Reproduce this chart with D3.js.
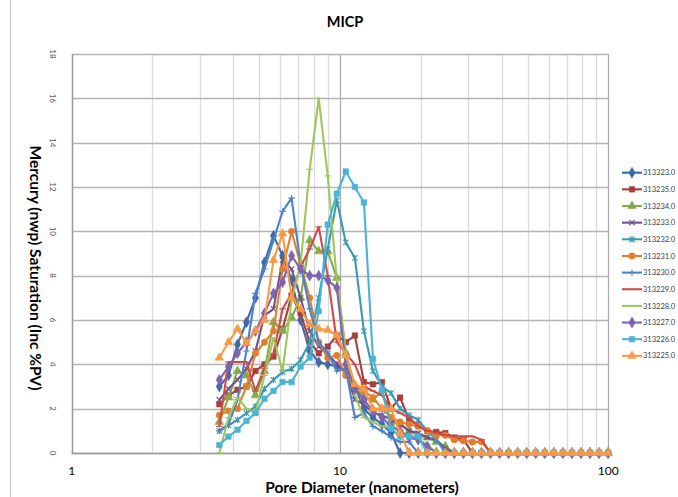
<!DOCTYPE html>
<html>

<head>
    <meta charset="UTF-8">
    <title>MICP</title>
    <script type="text/javascript" src="https://d3js.org/d3.v7.min.js"></script>
    <style>
        body { margin: 0; background: #fff; }
        svg { display: block; font-family: Lato, "Open Sans", sans-serif; }
    </style>
</head>

<body>
    <svg id="chart"></svg>
    <script>
        //pore diameters (nm), same for every sample
        const diameters = [3.55, 3.84, 4.15, 4.48, 4.84, 5.23, 5.65, 6.11, 6.60, 7.13, 7.71,
            8.33, 9.00, 9.73, 10.51, 11.36, 12.28, 13.27, 14.34, 15.50, 16.75, 18.10,
            19.56, 21.14, 22.85, 24.69, 26.68, 28.84, 31.16, 33.68, 36.40, 39.33, 42.51,
            45.94, 49.65, 53.65, 57.98, 62.66, 67.72, 73.18, 79.09, 85.47, 92.37, 99.82];

        const sampleNames = ["313323.0", "313235.0", "313234.0", "313233.0", "313232.0", "313231.0",
            "313230.0", "313229.0", "313228.0", "313227.0", "313226.0", "313225.0"];

        //incremental saturation per sample (%PV)
        const s313323 = [3.0, 3.5, 4.9, 5.9, 7.0, 8.6, 9.8, 8.9, 7.8, 6.0, 4.6, 4.1, 4.0, 3.9, 3.7, 3.0, 2.0, 1.6, 1.3, 0.9, 0,
            0, 0, 0, 0, 0, 0, 0, 0, 0, 0, 0, 0, 0, 0, 0, 0, 0, 0, 0, 0, 0, 0, 0];
        const s313235 = [2.2, 2.6, 2.85, 3.0, 3.7, 4.0, 4.35, 5.6, 7.1, 6.3, 5.0, 4.5, 4.8, 5.3, 5.0, 5.3, 3.2, 3.1, 3.2, 2.0, 2.5,
            1.5, 1.25, 1.0, 0.95, 0.9, 0.7, 0.6, 0, 0, 0, 0, 0, 0, 0, 0, 0, 0, 0, 0, 0, 0, 0, 0];
        const s313234 = [1.4, 2.5, 3.7, 3.5, 2.6, 3.7, 5.9, 5.5, 6.1, 7.0, 9.6, 9.1, 9.1, 7.9, 4.5, 3.0, 2.5, 2.4, 2.8, 1.4, 1.3,
            1.0, 0.8, 0.7, 0.5, 0.3, 0, 0, 0, 0, 0, 0, 0, 0, 0, 0, 0, 0, 0, 0, 0, 0, 0, 0];
        const s313233 = [2.4, 2.9, 3.3, 3.8, 4.6, 6.2, 6.5, 8.7, 8.3, 7.0, 5.5, 4.8, 4.5, 4.0, 3.7, 2.4, 2.2, 1.8, 1.7, 1.5, 1.3,
            1.0, 0.9, 0.7, 0.6, 0.2, 0, 0, 0, 0, 0, 0, 0, 0, 0, 0, 0, 0, 0, 0, 0, 0, 0, 0];
        const s313232 = [1.0, 1.25, 1.5, 1.8, 2.1, 2.9, 3.3, 3.65, 3.8, 4.2, 5.0, 7.0, 9.2, 11.4, 9.5, 8.8, 5.5, 3.7, 3.0, 2.7, 2.0,
            1.7, 1.5, 1.0, 0.6, 0, 0, 0, 0, 0, 0, 0, 0, 0, 0, 0, 0, 0, 0, 0, 0, 0, 0, 0];
        const s313231 = [1.7, 1.9, 2.0, 3.0, 4.5, 5.0, 5.5, 8.3, 10.0, 8.5, 7.0, 5.0, 4.3, 4.4, 3.5, 3.0, 2.8, 2.5, 2.0, 1.6, 1.4,
            1.3, 1.2, 1.0, 0.8, 0.8, 0.6, 0.55, 0.5, 0.5, 0, 0, 0, 0, 0, 0, 0, 0, 0, 0, 0, 0, 0, 0];
        const s313230 = [1.0, 1.3, 2.4, 4.6, 7.2, 8.3, 9.6, 10.9, 11.5, 8.5, 6.5, 5.0, 4.5, 3.7, 3.8, 1.6, 1.8, 1.2, 1.0, 0.7, 0.5,
            0.5, 0, 0, 0, 0, 0, 0, 0, 0, 0, 0, 0, 0, 0, 0, 0, 0, 0, 0, 0, 0, 0, 0];
        const s313229 = [1.2, 4.1, 4.1, 4.1, 2.8, 3.8, 4.5, 6.5, 7.2, 8.4, 9.2, 10.2, 8.0, 5.0, 4.5, 4.0, 3.0, 2.8, 2.6, 2.0, 1.8,
            1.6, 1.2, 1.0, 0.9, 0.8, 0.75, 0.75, 0.75, 0.6, 0, 0, 0, 0, 0, 0, 0, 0, 0, 0, 0, 0, 0, 0];
        const s313228 = [0, 1.6, 2.5, 2.0, 1.8, 3.5, 5.2, 3.7, 6.9, 8.5, 12.8, 16.0, 12.5, 7.8, 4.6, 2.6, 1.6, 1.4, 1.2, 1.2, 1.0,
            0.7, 0.6, 0.4, 0, 0, 0, 0, 0, 0, 0, 0, 0, 0, 0, 0, 0, 0, 0, 0, 0, 0, 0, 0];
        const s313227 = [3.3, 3.9, 4.5, 5.0, 5.5, 6.3, 7.2, 7.7, 8.9, 8.3, 8.0, 8.0, 7.8, 7.45, 4.0, 2.9, 2.4, 1.9, 1.6, 1.2, 1.0,
            0.7, 0.6, 0.3, 0, 0, 0, 0, 0, 0, 0, 0, 0, 0, 0, 0, 0, 0, 0, 0, 0, 0, 0, 0];
        const s313226 = [0.36, 0.74, 1.05, 1.45, 1.8, 2.45, 2.8, 3.2, 3.2, 3.9, 4.3, 6.4, 10.3, 11.7, 12.7, 12.0, 11.3, 4.25, 2.85, 1.1, 0.75,
            0.75, 0.75, 0, 0, 0, 0, 0, 0, 0, 0, 0, 0, 0, 0, 0, 0, 0, 0, 0, 0, 0, 0, 0];
        const s313225 = [4.3, 5.0, 5.6, 4.95, 5.5, 6.0, 8.7, 9.9, 7.0, 6.5, 5.8, 5.6, 5.55, 5.3, 4.4, 3.1, 2.9, 2.0, 2.0, 2.0, 0.9,
            0, 0, 0, 0, 0, 0, 0, 0, 0, 0, 0, 0, 0, 0, 0, 0, 0, 0, 0, 0, 0, 0, 0];

        const yTicks = [0, 2, 4, 6, 8, 10, 12, 14, 16, 18];
        const xTicks = [1, 10, 100];

        //styles, one per sample
        const colors = ["#3f6aa8", "#a53f3c", "#88a94c", "#6d5192", "#3b9ab3", "#e27f2e",
            "#4d82c8", "#d04b47", "#9cc75b", "#8063ad", "#4cb3d3", "#f79a45"];
        const markers = ["diamond", "square", "triangle", "x", "star", "circle",
            "plus", "dash", "dash", "diamond", "square", "triangle"];

        const seriesValues = [s313323, s313235, s313234, s313233, s313232, s313231,
            s313230, s313229, s313228, s313227, s313226, s313225];
        const series = sampleNames.map((name, i) => ({
            name: name,
            color: colors[i],
            marker: markers[i],
            points: diameters.map((d, j) => ({ d: d, v: seriesValues[i][j] }))
        }));

        //declare sizes
        const W = 678, H = 497;
        const plot = { left: 71.7, right: 608.3, top: 54, bottom: 453 };

        const svg = d3.select("#chart").attr("width", W).attr("height", H);

        //declare scales
        const x = d3.scaleLog().domain([1, 100]).range([plot.left, plot.right]);
        const y = d3.scaleLinear().domain([0, 18]).range([plot.bottom, plot.top]);

        //marker shapes
        const markerShapes = {
            diamond: { d: d3.symbol(d3.symbolDiamond, 34)(), fill: true },
            square: { d: d3.symbol(d3.symbolSquare, 30)(), fill: true },
            triangle: { d: d3.symbol(d3.symbolTriangle, 32)(), fill: true },
            circle: { d: d3.symbol(d3.symbolCircle, 32)(), fill: true },
            x: { d: "M-2.7,-2.7L2.7,2.7M-2.7,2.7L2.7,-2.7", fill: false },
            star: { d: "M-2.7,-2.7L2.7,2.7M-2.7,2.7L2.7,-2.7M0,-3.2L0,3.2", fill: false },
            plus: { d: "M-3.2,0L3.2,0M0,-3.2L0,3.2", fill: false },
            dash: { d: "M-3.4,0L3.4,0", fill: false }
        };

        //outer chart border (left edge only in view)
        svg.append("line")
            .attr("x1", 10.5).attr("x2", 10.5).attr("y1", 0).attr("y2", H)
            .attr("stroke", "#c4c4c4");

        //grid
        const grid = svg.append("g");
        grid.selectAll("line.v")
            .data(x.ticks())
            .join("line")
            .attr("x1", d => Math.round(x(d)) + 0.5).attr("x2", d => Math.round(x(d)) + 0.5)
            .attr("y1", plot.top).attr("y2", plot.bottom)
            .attr("stroke", d => Math.log10(d) % 1 === 0 ? "#ababab" : "#dadada")
            .attr("stroke-width", 1.3);
        grid.selectAll("line.h")
            .data(yTicks)
            .join("line")
            .attr("x1", plot.left).attr("x2", plot.right)
            .attr("y1", d => Math.round(y(d)) + 0.5).attr("y2", d => Math.round(y(d)) + 0.5)
            .attr("stroke", "#b4b4b4")
            .attr("stroke-width", 1.3);

        //axis lines
        svg.append("line")
            .attr("x1", Math.round(plot.left) + 0.5).attr("x2", Math.round(plot.left) + 0.5)
            .attr("y1", plot.top).attr("y2", plot.bottom)
            .attr("stroke", "#9a9a9a").attr("stroke-width", 1.3);
        svg.append("line")
            .attr("x1", plot.left).attr("x2", plot.right)
            .attr("y1", Math.round(plot.bottom) + 0.5).attr("y2", Math.round(plot.bottom) + 0.5)
            .attr("stroke", "#9a9a9a").attr("stroke-width", 1.3);

        //tick labels
        svg.append("g")
            .selectAll("text")
            .data(yTicks)
            .join("text")
            .attr("transform", d => "translate(53," + y(d) + ") rotate(90)")
            .attr("text-anchor", "middle")
            .attr("dy", "0.35em")
            .attr("font-size", 8)
            .attr("fill", "#595959")
            .text(d => d);
        svg.append("g")
            .selectAll("text")
            .data(xTicks)
            .join("text")
            .attr("x", d => x(d))
            .attr("y", 475)
            .attr("text-anchor", "middle")
            .attr("font-size", 12)
            .attr("fill", "#000")
            .text(d => d);

        //titles
        svg.append("text")
            .attr("x", 345).attr("y", 27)
            .attr("text-anchor", "middle")
            .attr("font-size", 14.5).attr("font-weight", "bold")
            .text("MICP");
        svg.append("text")
            .attr("x", 362).attr("y", 493)
            .attr("text-anchor", "middle")
            .attr("font-size", 15.5).attr("font-weight", "bold")
            .text("Pore Diameter (nanometers)");
        svg.append("text")
            .attr("transform", "translate(30,268) rotate(90)")
            .attr("text-anchor", "middle")
            .attr("font-size", 15.5).attr("font-weight", "bold")
            .text("Mercury (nwp) Saturation (Inc %PV)");

        //lines and markers
        const line = d3.line().x(p => x(p.d)).y(p => y(p.v));
        const groups = svg.append("g")
            .selectAll("g")
            .data(series)
            .join("g");
        groups.append("path")
            .attr("d", s => line(s.points))
            .attr("fill", "none")
            .attr("stroke", s => s.color)
            .attr("stroke-width", 2.1)
            .attr("stroke-linejoin", "round");
        groups.each(function (s) {
            const shape = markerShapes[s.marker];
            d3.select(this).selectAll("path.m")
                .data(s.points)
                .join("path")
                .attr("class", "m")
                .attr("transform", p => "translate(" + x(p.d) + "," + y(p.v) + ")")
                .attr("d", shape.d)
                .attr("fill", shape.fill ? s.color : "none")
                .attr("stroke", s.color)
                .attr("stroke-width", shape.fill ? 0.6 : 1.1);
        });

        //legend
        const legend = svg.append("g")
            .selectAll("g")
            .data(series)
            .join("g")
            .attr("transform", (s, i) => "translate(622," + (172.7 + i * 16.65) + ")");
        legend.append("line")
            .attr("x1", 0).attr("x2", 20)
            .attr("stroke", s => s.color).attr("stroke-width", 2.1);
        legend.append("path")
            .attr("transform", "translate(10,0)")
            .attr("d", s => markerShapes[s.marker].d)
            .attr("fill", s => markerShapes[s.marker].fill ? s.color : "none")
            .attr("stroke", s => s.color)
            .attr("stroke-width", s => markerShapes[s.marker].fill ? 0.6 : 1.1);
        legend.append("text")
            .attr("x", 21).attr("dy", "0.35em")
            .attr("font-size", 7.5)
            .attr("fill", "#404040")
            .text(s => s.name);
    </script>
</body>

</html>
